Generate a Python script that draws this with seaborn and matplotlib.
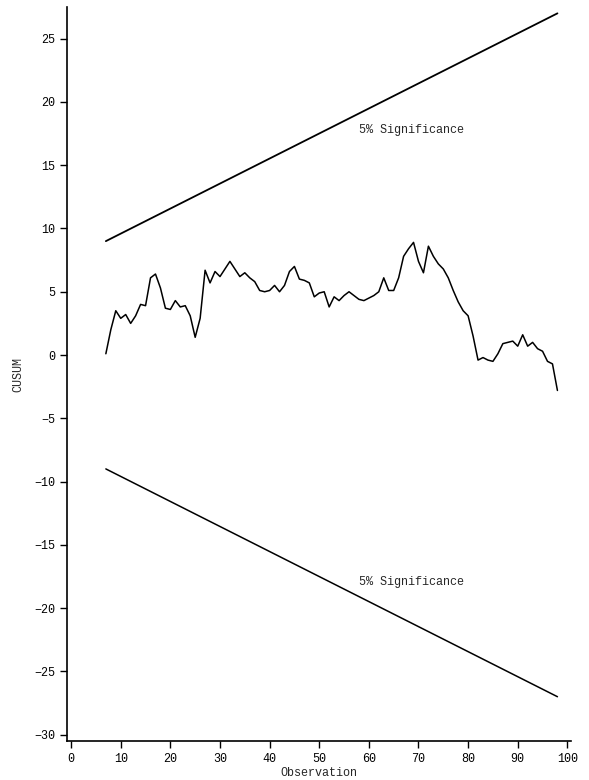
import numpy as np
import pandas as pd
import matplotlib
matplotlib.use("Agg")
import matplotlib.pyplot as plt
import seaborn as sns

# Data
observations = list(range(7, 99))
cusum = [0.1, 2.0, 3.5, 2.9, 3.2, 2.5, 3.1, 4.0, 3.9, 6.1,
         6.4, 5.3, 3.7, 3.6, 4.3, 3.8, 3.9, 3.1, 1.4, 2.9,
         6.7, 5.7, 6.6, 6.2, 6.8, 7.4, 6.8, 6.2, 6.5, 6.1,
         5.8, 5.1, 5.0, 5.1, 5.5, 5.0, 5.5, 6.6, 7.0, 6.0,
         5.9, 5.7, 4.6, 4.9, 5.0, 3.8, 4.6, 4.3, 4.7, 5.0,
         4.7, 4.4, 4.3, 4.5, 4.7, 5.0, 6.1, 5.1, 5.1, 6.1,
         7.8, 8.4, 8.9, 7.4, 6.5, 8.6, 7.8, 7.2, 6.8, 6.1,
         5.1, 4.2, 3.5, 3.1, 1.5, -0.4, -0.2, -0.4, -0.5, 0.1,
         0.9, 1.0, 1.1, 0.7, 1.6, 0.7, 1.0, 0.5, 0.3, -0.5,
         -0.7, -2.8]
bound_x = [7, 98]
upper_bound = [9.0, 27.0]
lower_bound = [-9.0, -27.0]
sig_label = "5% Significance"
x_ticks = [0, 10, 20, 30, 40, 50, 60, 70, 80, 90, 100]
y_ticks = [-30, -25, -20, -15, -10, -5, 0, 5, 10, 15, 20, 25]

sns.set_style("ticks")
plt.rcParams['font.family'] = ['Liberation Mono', 'DejaVu Sans Mono']

fig = plt.figure(figsize=(5.89, 7.80), dpi=100)
ax = fig.add_axes([0.114, 0.050, 0.856, 0.941])

df = pd.DataFrame({"Observation": observations, "CUSUM": cusum})
sns.lineplot(data=df, x="Observation", y="CUSUM", ax=ax, color="black", lw=1.1)
sns.lineplot(x=bound_x, y=upper_bound, ax=ax, color="black", lw=1.3)
sns.lineplot(x=bound_x, y=lower_bound, ax=ax, color="black", lw=1.1)

ax.text(58, 17.8, sig_label, fontsize=8.5, va="center", ha="left")
ax.text(58, -17.9, sig_label, fontsize=8.5, va="center", ha="left")

ax.set_xlim(-0.8, 100.8)
ax.set_ylim(-30.5, 27.5)
ax.set_xticks(x_ticks)
ax.set_yticks(y_ticks)
ax.tick_params(axis="both", direction="out", length=5, width=1, labelsize=8.5, color="black", labelcolor="black")
ax.set_xlabel("Observation", fontsize=8.5, labelpad=1.5)
ax.set_ylabel("CUSUM", fontsize=8.5, labelpad=7)
for s in ["left", "bottom"]:
    ax.spines[s].set_color("black")
    ax.spines[s].set_linewidth(1.2)
sns.despine(ax=ax)

fig.savefig("out.png", dpi=100)
